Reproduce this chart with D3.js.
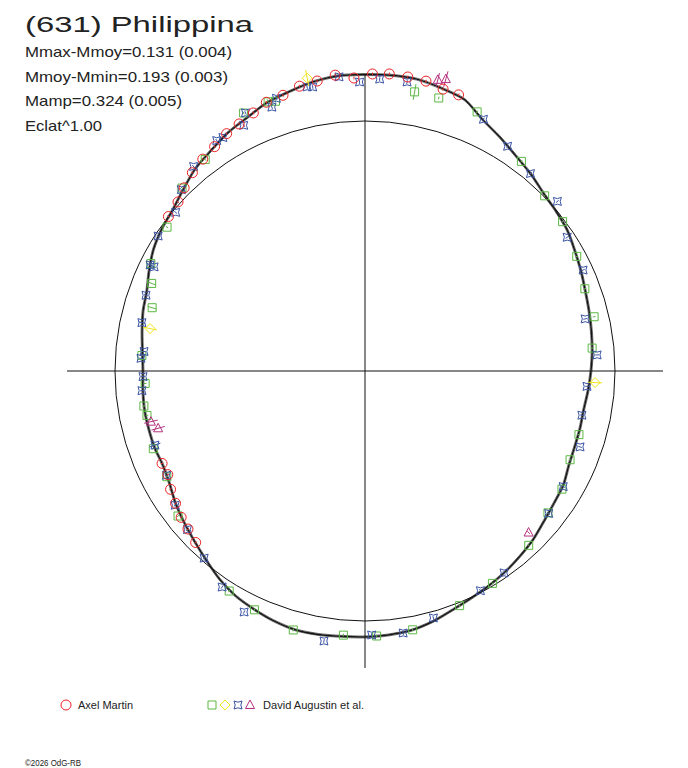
<!DOCTYPE html>
<html lang="en">
<head>
<meta charset="UTF-8">
<script src="https://cdn.jsdelivr.net/npm/d3@7"></script>
<title>(631) Philippina</title>
<style>
    body { margin: 0; background: #fff; }
    svg { display: block; font-family: "Liberation Sans", Arial, sans-serif; }
</style>
</head>
<body>
<script>
    const w = 688;
    const h = 768;
    const cx = 365;
    const cy = 371;

    // header texts
    const title = "(631) Philippina";
    const infoLines = ["Mmax-Mmoy=0.131 (0.004)", "Mmoy-Mmin=0.193 (0.003)", "Mamp=0.324 (0.005)", "Eclat^1.00"];
    const infoWidths = [207, 203, 157, 77];
    const observers = ["Axel Martin", "David Augustin et al."];
    const footer = "\u00a92026 OdG-RB";

    // fitted light curve (phase, relative magnitude)
    const fitPhase = [0.000,0.014,0.028,0.042,0.056,0.069,0.083,0.097,0.111,0.125,0.139,0.153,
                      0.167,0.181,0.194,0.208,0.222,0.236,0.250,0.264,0.278,0.292,0.306,0.319,
                      0.333,0.347,0.361,0.375,0.389,0.403,0.417,0.431,0.444,0.458,0.472,0.486,
                      0.500,0.514,0.528,0.542,0.556,0.569,0.583,0.597,0.611,0.625,0.639,0.653,
                      0.667,0.681,0.694,0.708,0.722,0.736,0.750,0.764,0.778,0.792,0.806,0.819,
                      0.833,0.847,0.861,0.875,0.889,0.903,0.917,0.931,0.944,0.958,0.972,0.986];
    const fitMag = [-0.201,-0.203,-0.201,-0.186,-0.169,-0.121,-0.087,-0.056,-0.033,-0.009,0.004,0.015,
                    0.035,0.052,0.067,0.078,0.087,0.095,0.104,0.113,0.121,0.119,0.117,0.110,
                    0.092,0.084,0.071,0.052,0.037,0.022,0.009,-0.004,-0.019,-0.041,-0.058,-0.065,
                    -0.069,-0.071,-0.076,-0.078,-0.069,-0.056,-0.041,-0.017,0.013,0.039,0.061,0.082,
                    0.106,0.117,0.113,0.113,0.113,0.117,0.121,0.115,0.102,0.087,0.076,0.052,
                    0.026,0.009,-0.004,-0.030,-0.061,-0.082,-0.108,-0.128,-0.154,-0.171,-0.190,-0.201];

    // Axel Martin (circles)
    const martinPhase = [0.004,0.013,0.023,0.033,0.043,0.052,0.624,0.634,0.643,0.653,0.663,0.673,0.682,
                         0.856,0.867,0.876,0.886,0.896,0.906,0.916,0.925,0.935,0.944,0.954,0.964,0.974,0.984,0.994];
    const martinMag = [-0.204,-0.208,-0.204,-0.200,-0.184,-0.180,0.039,0.055,0.065,0.082,0.097,0.118,0.117,
                       0.000,-0.009,-0.032,-0.056,-0.073,-0.087,-0.107,-0.118,-0.135,-0.157,-0.163,-0.183,-0.190,-0.205,-0.187];

    // David Augustin et al. (squares)
    const squarePhase = [0.028,0.042,0.065,0.102,0.127,0.147,0.171,0.193,0.213,0.234,0.296,0.315,0.336,
                         0.355,0.380,0.414,0.439,0.471,0.493,0.513,0.543,0.569,0.588,0.645,0.672,0.694,
                         0.718,0.725,0.741,0.761,0.796,0.812,0.824,0.850,0.875,0.897,0.930,0.945,0.949];
    const squareMag = [-0.145,-0.142,-0.140,-0.050,-0.004,0.010,0.040,0.066,0.063,0.094,0.116,0.115,0.088,
                       0.080,0.047,0.010,-0.013,-0.057,-0.066,-0.065,-0.081,-0.057,-0.037,0.058,0.110,0.106,
                       0.119,0.113,0.129,0.114,0.121,0.084,0.045,0.023,-0.038,-0.065,-0.152,-0.156,-0.148];
    const squareErr = [0.035,0.006,0.006,0.006,0.006,0.006,0.006,0.006,0.006,0.006,0.006,0.006,0.006,
                       0.006,0.006,0.006,0.006,0.006,0.006,0.006,0.006,0.006,0.006,0.006,0.006,0.006,
                       0.006,0.006,0.006,0.006,0.020,0.020,0.006,0.006,0.006,0.006,0.006,0.012,0.006];

    // David Augustin et al. (diamonds)
    const diamondPhase = [0.258, 0.781, 0.969];
    const diamondMag = [0.085, 0.134, -0.210];
    const diamondErr = [0.030, 0.030, 0.035];

    // David Augustin et al. (stars)
    const starPhase = [0.008,0.023,0.070,0.090,0.111,0.135,0.157,0.181,0.213,0.239,0.261,0.282,0.304,
                       0.334,0.355,0.404,0.423,0.457,0.477,0.496,0.524,0.574,0.593,0.613,0.634,0.652,
                       0.673,0.696,0.736,0.746,0.759,0.764,0.784,0.803,0.823,0.823,0.842,0.861,0.874,
                       0.889,0.909,0.913,0.927,0.931,0.946,0.950,0.968,0.971,0.986,0.997];
    const starMag = [-0.183,-0.182,-0.122,-0.070,-0.033,-0.028,0.033,0.042,0.103,0.075,0.119,0.124,0.095,
                     0.089,0.076,0.021,0.008,-0.027,-0.064,-0.061,-0.100,-0.085,-0.039,0.014,0.052,0.076,
                     0.112,0.118,0.113,0.121,0.111,0.122,0.094,0.079,0.064,0.045,0.013,0.013,-0.035,
                     -0.073,-0.104,-0.101,-0.104,-0.149,-0.129,-0.159,-0.173,-0.168,-0.196,-0.169];
    const starErr = [0.008,0.008,0.008,0.008,0.008,0.008,0.008,0.008,0.008,0.008,0.008,0.008,0.008,
                     0.008,0.008,0.008,0.008,0.008,0.008,0.008,0.008,0.008,0.008,0.008,0.008,0.008,
                     0.008,0.025,0.008,0.008,0.008,0.008,0.015,0.008,0.008,0.015,0.008,0.008,0.008,
                     0.008,0.008,0.008,0.008,0.008,0.008,0.008,0.008,0.008,0.008,0.008];

    // David Augustin et al. (triangles)
    const trianglePhase = [0.039, 0.043, 0.374, 0.707, 0.713];
    const triangleMag = [-0.217, -0.229, 0.087, 0.153, 0.130];
    const triangleErr = [0.030, 0.035, 0.008, 0.030, 0.030];

    const colors = { martin: "#ec2226", square: "#5cb843", diamond: "#f2e41a", star: "#3a53a4", triangle: "#b4307f" };

    const svg = d3.select("body").append("svg")
        .attr("width", w)
        .attr("height", h);

    // radial scale: brighter (negative) -> larger radius
    const rScale = d3.scaleLinear().domain([0, -0.2]).range([250, 296.2]);
    const axisHalf = 298;

    const plot = svg.append("g").attr("transform", `translate(${cx},${cy})`);

    // mean brightness circle
    plot.append("circle")
        .attr("r", rScale(0))
        .attr("fill", "none")
        .attr("stroke", "#111")
        .attr("stroke-width", 1);

    // axes
    plot.append("line").attr("x1", -axisHalf).attr("x2", axisHalf).attr("y1", 0).attr("y2", 0)
        .attr("stroke", "#111").attr("stroke-width", 1);
    plot.append("line").attr("x1", 0).attr("x2", 0).attr("y1", -axisHalf + 1).attr("y2", axisHalf - 1)
        .attr("stroke", "#111").attr("stroke-width", 1);

    const fit = fitPhase.map((p, i) => ({ phase: p, mag: fitMag[i] }));
    const angle = p => p * 2 * Math.PI;

    // fitted curve, drawn as a thin bundle
    [[-1, 0.6], [1, 0.6], [0, 1.5]].forEach(([off, sw]) => {
        const line = d3.lineRadial()
            .angle(d => angle(d.phase))
            .radius(d => rScale(d.mag) + off)
            .curve(d3.curveCardinalClosed.tension(0.2));
        plot.append("path")
            .datum(fit)
            .attr("d", line)
            .attr("fill", "none")
            .attr("stroke", "#151515")
            .attr("stroke-width", sw);
    });

    // marker shapes
    const shapes = {
        circle: "M5,0A5,5 0 1,1 -5,0A5,5 0 1,1 5,0Z",
        square: "M-4,-4H4V4H-4Z",
        diamond: "M0,-5L5,0L0,5L-5,0Z",
        star: "M-4,-4Q0,-1.6 4,-4Q1.6,0 4,4Q0,1.6 -4,4Q-1.6,0 -4,-4Z",
        triangle: "M0,-5L4.5,3.5H-4.5Z"
    };

    function drawSet(phases, mags, errs, shape, color) {
        const data = phases.map((p, i) => ({ phase: p, mag: mags[i], err: errs ? errs[i] : 0.006 }));
        const g = plot.append("g");
        g.selectAll("line")
            .data(data)
            .enter()
            .append("line")
            .attr("x1", d => d3.pointRadial(angle(d.phase), rScale(d.mag - d.err))[0])
            .attr("y1", d => d3.pointRadial(angle(d.phase), rScale(d.mag - d.err))[1])
            .attr("x2", d => d3.pointRadial(angle(d.phase), rScale(d.mag + d.err))[0])
            .attr("y2", d => d3.pointRadial(angle(d.phase), rScale(d.mag + d.err))[1])
            .attr("stroke", color)
            .attr("stroke-width", 1);
        g.selectAll("path")
            .data(data)
            .enter()
            .append("path")
            .attr("d", shapes[shape])
            .attr("transform", d => {
                const [x, y] = d3.pointRadial(angle(d.phase), rScale(d.mag));
                return `translate(${x},${y})`;
            })
            .attr("fill", "none")
            .attr("stroke", color)
            .attr("stroke-width", 1);
    }

    drawSet(squarePhase, squareMag, squareErr, "square", colors.square);
    drawSet(starPhase, starMag, starErr, "star", colors.star);
    drawSet(diamondPhase, diamondMag, diamondErr, "diamond", colors.diamond);
    drawSet(trianglePhase, triangleMag, triangleErr, "triangle", colors.triangle);
    drawSet(martinPhase, martinMag, null, "circle", colors.martin);

    // title and info
    svg.append("text")
        .attr("x", 25)
        .attr("y", 32)
        .attr("fill", "#222")
        .style("font-size", "22px")
        .attr("textLength", 228)
        .attr("lengthAdjust", "spacingAndGlyphs")
        .text(title);

    svg.selectAll(".info")
        .data(infoLines)
        .enter()
        .append("text")
        .attr("class", "info")
        .attr("x", 25)
        .attr("y", (d, i) => 57 + i * 24.5)
        .attr("fill", "#222")
        .style("font-size", "15px")
        .attr("textLength", (d, i) => infoWidths[i])
        .attr("lengthAdjust", "spacingAndGlyphs")
        .text(d => d);

    // legend
    const legend = svg.append("g");
    legend.append("path").attr("d", shapes.circle).attr("transform", "translate(66,705)")
        .attr("fill", "none").attr("stroke", colors.martin).attr("stroke-width", 1);
    legend.append("text").attr("x", 78).attr("y", 709).style("font-size", "10px").attr("fill", "#222")
        .attr("textLength", 55).attr("lengthAdjust", "spacingAndGlyphs").text(observers[0]);

    [["square", 212], ["diamond", 225], ["star", 238], ["triangle", 250]].forEach(([s, x]) => {
        legend.append("path").attr("d", shapes[s]).attr("transform", `translate(${x},705)`)
            .attr("fill", "none").attr("stroke", colors[s]).attr("stroke-width", 1);
    });
    legend.append("text").attr("x", 263).attr("y", 709).style("font-size", "10px").attr("fill", "#222")
        .attr("textLength", 101).attr("lengthAdjust", "spacingAndGlyphs").text(observers[1]);

    svg.append("text")
        .attr("x", 25)
        .attr("y", 766)
        .style("font-size", "8.5px")
        .attr("fill", "#222")
        .attr("textLength", 56)
        .attr("lengthAdjust", "spacingAndGlyphs")
        .text(footer);
</script>
</body>
</html>
